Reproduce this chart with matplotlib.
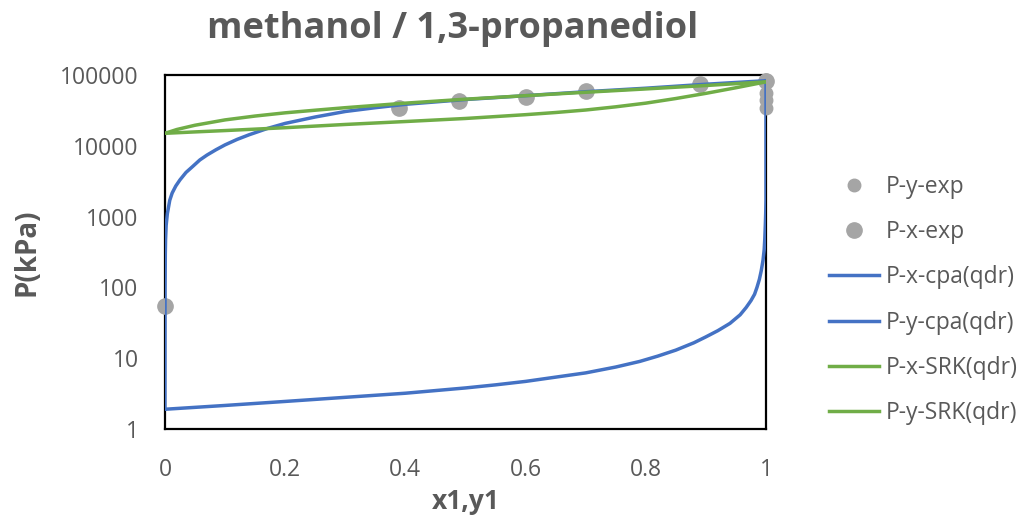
import numpy as np
import matplotlib
matplotlib.use('Agg')
import matplotlib.pyplot as plt

# experimental points
y_exp_x = [1.0, 1.0, 1.0, 1.0]
y_exp_p = [85000, 55000, 45000, 34000]
x_exp_x = [0.0, 0.39, 0.49, 0.60, 0.70, 0.89, 1.0]
x_exp_p = [55, 34000, 43000, 49000, 59000, 75000, 83000]

# CPA (qdr) model curves
cpa_x_x = [0.0, 0.0002, 0.0006, 0.001, 0.002, 0.004, 0.008, 0.012, 0.018, 0.025, 0.035,
           0.045, 0.058, 0.07, 0.085, 0.1, 0.12, 0.14, 0.17, 0.2, 0.25, 0.3, 0.35, 0.4,
           0.5, 0.6, 0.7, 0.8, 0.9, 1.0]
cpa_x_p = [1.9, 100, 300, 470, 750, 1100, 1700, 2150, 2700, 3300, 4200,
           5000, 6300, 7400, 8800, 10300, 12300, 14300, 17500, 20700, 25500, 30500, 34500, 38500,
           45000, 51000, 58000, 65000, 74000, 83000]
cpa_y_x = [0.0, 0.1, 0.2, 0.3, 0.4, 0.5, 0.55, 0.6, 0.65, 0.7, 0.75, 0.79, 0.82, 0.85,
           0.88, 0.9, 0.92, 0.94, 0.957, 0.967, 0.975, 0.981, 0.985, 0.989, 0.992, 0.995,
           0.997, 0.998, 0.999, 0.9995, 1.0, 1.0]
cpa_y_p = [1.9, 2.15, 2.45, 2.8, 3.2, 3.8, 4.2, 4.7, 5.4, 6.2, 7.5, 9.0, 10.7, 13,
           16.5, 20, 24.5, 31, 41, 52, 65, 80, 100, 130, 170, 240,
           340, 480, 800, 1100, 1700, 83000]

# SRK (qdr) model curves
srk_x_x = [0.0, 0.02, 0.05, 0.1, 0.15, 0.2, 0.25, 0.3, 0.4, 0.5, 0.6, 0.7, 0.8, 0.9, 1.0]
srk_x_p = [15000, 17000, 19500, 23200, 26300, 29200, 31800, 34500, 40000, 45500, 51000,
           57000, 63500, 71000, 80000]
srk_y_x = [0.0, 0.05, 0.1, 0.2, 0.3, 0.4, 0.5, 0.6, 0.65, 0.7, 0.75, 0.8, 0.85, 0.9, 0.95, 1.0]
srk_y_p = [15000, 15700, 16400, 18000, 20000, 22000, 24300, 27500, 29500, 32000, 35500,
           40000, 46500, 55000, 66000, 80000]

xticks = [0, 0.2, 0.4, 0.6, 0.8, 1]
xticklabels = ['0', '0.2', '0.4', '0.6', '0.8', '1']
yticks = [1, 10, 100, 1000, 10000, 100000]
yticklabels = ['1', '10', '100', '1000', '10000', '100000']

grey_txt = '#595959'
blue = '#4472C4'
green = '#70AD47'
pt_grey = '#A5A5A5'

plt.rcParams['font.family'] = ['Open Sans', 'DejaVu Sans']

fig = plt.figure(figsize=(10.29, 5.21), dpi=100)
ax = fig.add_axes([0.1603, 0.1766, 0.5841, 0.6795])

ax.plot(y_exp_x, y_exp_p, 'o', color=pt_grey, markersize=9, clip_on=False, label='P-y-exp', zorder=3)
ax.plot(x_exp_x, x_exp_p, 'o', color=pt_grey, markersize=11, clip_on=False, label='P-x-exp', zorder=3)
ax.plot(cpa_x_x, cpa_x_p, color=blue, lw=2.5, label='P-x-cpa(qdr)', zorder=4)
ax.plot(cpa_y_x, cpa_y_p, color=blue, lw=2.5, label='P-y-cpa(qdr)', zorder=4)
ax.plot(srk_x_x, srk_x_p, color=green, lw=2.5, label='P-x-SRK(qdr)', zorder=5)
ax.plot(srk_y_x, srk_y_p, color=green, lw=2.5, label='P-y-SRK(qdr)', zorder=5)

ax.set_yscale('log')
ax.set_xlim(0, 1)
ax.set_ylim(1, 100000)
ax.set_xticks(xticks)
ax.set_xticklabels(xticklabels)
ax.set_yticks(yticks)
ax.set_yticklabels(yticklabels)
ax.minorticks_off()
ax.tick_params(axis='both', length=0, labelsize=16.5, labelcolor=grey_txt)
ax.tick_params(axis='x', pad=21)
ax.tick_params(axis='y', pad=19)
for s in ax.spines.values():
    s.set_color('black')
    s.set_linewidth(1.6)

ax.set_xlabel('x1,y1', fontsize=19, fontweight='bold', color=grey_txt, labelpad=4)
ax.set_ylabel('P(kPa)', fontsize=20, fontweight='bold', color=grey_txt, labelpad=13)
fig.text(453 / 1029, 1 - 29 / 521, 'methanol / 1,3-propanediol', ha='center', va='center',
         fontsize=26, fontweight='bold', color=grey_txt)

leg = ax.legend(loc='center left', bbox_to_anchor=(808 / 1029, 1 - 300 / 521), bbox_transform=fig.transFigure,
                frameon=False, fontsize=16.5, labelspacing=0.93, handlelength=2.2, handletextpad=0.3)
for t in leg.get_texts():
    t.set_color(grey_txt)

fig.savefig('out.png', dpi=100)
